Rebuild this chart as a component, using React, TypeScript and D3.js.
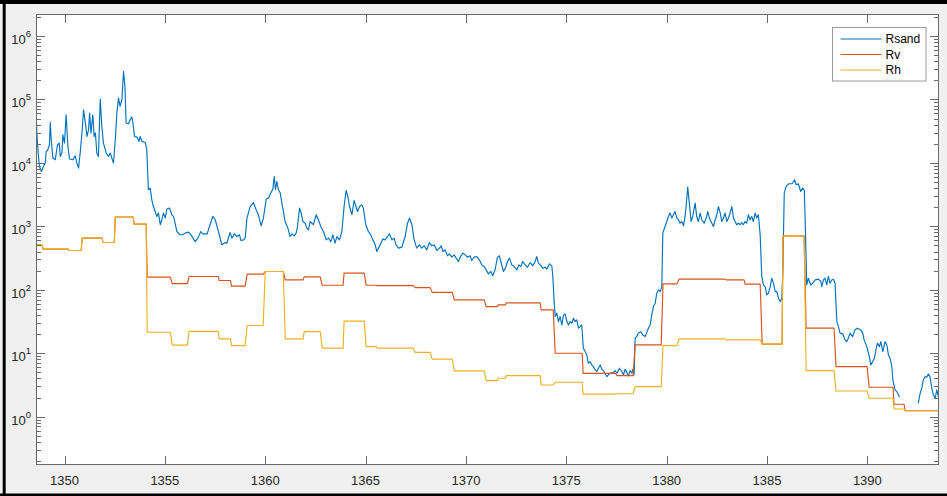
import React from "react";
import * as d3 from "d3";

// Axis ranges and ticks
const depthDomain: [number, number] = [1348.58, 1393.57];
const resDomain: [number, number] = [0.173, 2.22e6];
const depthTicks = [1350, 1355, 1360, 1365, 1370, 1375, 1380, 1385, 1390];
const decadeExponents = [0, 1, 2, 3, 4, 5, 6];

// Measured sand resistivity log (NaN gap marked with null)
const rsandDepth = [
  1348.58, 1348.62, 1348.69, 1348.75, 1348.85, 1348.95, 1349.04, 1349.09, 1349.17, 1349.25,
  1349.29, 1349.34, 1349.42, 1349.54, 1349.65, 1349.74, 1349.79, 1349.87, 1349.92, 1350.0,
  1350.08, 1350.17, 1350.25, 1350.42, 1350.53, 1350.62, 1350.7, 1350.78, 1350.87, 1350.95,
  1351.03, 1351.12, 1351.2, 1351.25, 1351.32, 1351.41, 1351.48, 1351.54, 1351.61, 1351.69,
  1351.78, 1351.86, 1351.94, 1352.08, 1352.19, 1352.28, 1352.36, 1352.44, 1352.53, 1352.61,
  1352.69, 1352.77, 1352.86, 1352.94, 1353.01, 1353.07, 1353.19, 1353.27, 1353.36, 1353.41,
  1353.49, 1353.61, 1353.71, 1353.77, 1353.86, 1354.02, 1354.1, 1354.18, 1354.27, 1354.35,
  1354.43, 1354.52, 1354.6, 1354.68, 1354.77, 1354.85, 1354.93, 1355.02, 1355.1, 1355.23,
  1355.35, 1355.43, 1355.51, 1355.6, 1355.76, 1355.9, 1356.01, 1356.18, 1356.3, 1356.4,
  1356.51, 1356.65, 1356.79, 1356.89, 1357.11, 1357.22, 1357.39, 1357.51, 1357.67, 1357.84,
  1358.01, 1358.09, 1358.25, 1358.34, 1358.47, 1358.59, 1358.72, 1358.79, 1358.92, 1359.0,
  1359.09, 1359.25, 1359.41, 1359.55, 1359.66, 1359.8, 1359.91, 1360.05, 1360.16, 1360.28,
  1360.38, 1360.45, 1360.51, 1360.58, 1360.66, 1360.75, 1360.83, 1360.91, 1360.99, 1361.13,
  1361.24, 1361.33, 1361.44, 1361.54, 1361.61, 1361.71, 1361.79, 1361.88, 1361.99, 1362.07,
  1362.15, 1362.24, 1362.4, 1362.54, 1362.65, 1362.77, 1362.9, 1363.04, 1363.15, 1363.27,
  1363.37, 1363.48, 1363.57, 1363.7, 1363.82, 1363.93, 1364.03, 1364.12, 1364.2, 1364.32,
  1364.43, 1364.52, 1364.6, 1364.7, 1364.81, 1364.89, 1365.01, 1365.14, 1365.26, 1365.36,
  1365.48, 1365.56, 1365.73, 1365.86, 1365.97, 1366.09, 1366.19, 1366.31, 1366.42, 1366.52,
  1366.64, 1366.81, 1366.97, 1367.09, 1367.19, 1367.31, 1367.42, 1367.55, 1367.68, 1367.8,
  1367.92, 1368.05, 1368.18, 1368.3, 1368.42, 1368.55, 1368.68, 1368.77, 1368.85, 1368.96,
  1369.08, 1369.18, 1369.3, 1369.41, 1369.51, 1369.63, 1369.75, 1369.85, 1369.96, 1370.07,
  1370.21, 1370.29, 1370.41, 1370.54, 1370.67, 1370.79, 1370.91, 1371.01, 1371.12, 1371.24,
  1371.34, 1371.46, 1371.57, 1371.67, 1371.74, 1371.87, 1371.97, 1372.07, 1372.17, 1372.29,
  1372.4, 1372.54, 1372.64, 1372.74, 1372.83, 1372.95, 1373.06, 1373.2, 1373.33, 1373.45,
  1373.53, 1373.61, 1373.7, 1373.83, 1373.95, 1374.03, 1374.16, 1374.28, 1374.33, 1374.4,
  1374.45, 1374.53, 1374.61, 1374.69, 1374.78, 1374.86, 1374.94, 1375.03, 1375.11, 1375.19,
  1375.28, 1375.36, 1375.44, 1375.52, 1375.61, 1375.69, 1375.77, 1375.85, 1375.94, 1376.02,
  1376.1, 1376.19, 1376.27, 1376.35, 1376.44, 1376.52, 1376.6, 1376.69, 1376.77, 1376.85,
  1376.93, 1377.02, 1377.1, 1377.18, 1377.35, 1377.43, 1377.52, 1377.65, 1377.77, 1377.85,
  1377.93, 1378.02, 1378.1, 1378.18, 1378.27, 1378.32, 1378.38, 1378.43, 1378.51, 1378.59,
  1378.71, 1378.81, 1378.93, 1379.01, 1379.09, 1379.18, 1379.26, 1379.34, 1379.43, 1379.51,
  1379.59, 1379.68, 1379.76, 1379.81, 1379.92, 1380.01, 1380.09, 1380.17, 1380.26, 1380.34,
  1380.42, 1380.51, 1380.59, 1380.67, 1380.76, 1380.84, 1380.92, 1381.0, 1381.05, 1381.13,
  1381.22, 1381.3, 1381.42, 1381.5, 1381.58, 1381.67, 1381.75, 1381.87, 1381.97, 1382.05,
  1382.13, 1382.21, 1382.33, 1382.42, 1382.5, 1382.58, 1382.67, 1382.75, 1382.83, 1382.91,
  1383.0, 1383.08, 1383.16, 1383.25, 1383.33, 1383.41, 1383.49, 1383.58, 1383.66, 1383.74,
  1383.82, 1383.91, 1383.99, 1384.07, 1384.16, 1384.24, 1384.32, 1384.41, 1384.49, 1384.57,
  1384.66, 1384.74, 1384.82, 1384.91, 1384.99, 1385.07, 1385.16, 1385.24, 1385.32, 1385.41,
  1385.49, 1385.57, 1385.66, 1385.74, 1385.79, 1385.86, 1385.95, 1386.08, 1386.25, 1386.38,
  1386.45, 1386.56, 1386.68, 1386.78, 1386.86, 1386.91, 1386.98, 1387.06, 1387.18, 1387.28,
  1387.4, 1387.56, 1387.68, 1387.73, 1387.81, 1387.89, 1387.98, 1388.06, 1388.14, 1388.23,
  1388.31, 1388.39, 1388.48, 1388.56, 1388.64, 1388.77, 1388.89, 1388.97, 1389.05, 1389.14,
  1389.27, 1389.38, 1389.5, 1389.67, 1389.77, 1389.84, 1389.97, 1390.1, 1390.17, 1390.27,
  1390.35, 1390.43, 1390.5, 1390.6, 1390.67, 1390.77, 1390.88, 1390.97, 1391.05, 1391.13,
  1391.22, 1391.27, 1391.38, 1391.47, 1391.6, 1392.0,
  1392.54, 1392.63, 1392.71, 1392.79, 1392.88, 1392.96, 1393.04, 1393.12, 1393.21, 1393.29,
  1393.38, 1393.46, 1393.54,
];

const rsandValue: (number | null)[] = [
  78000, 30000, 14400, 8770, 7310, 8770, 10000, 15100, 16100, 19300,
  43400, 23100, 11900, 11200, 19300, 20500, 12600, 14300, 27700, 20500,
  57400, 18100, 11500, 11200, 12900, 9930, 8280, 14300, 29500, 68800,
  45000, 26100, 33300, 61000, 29500, 57400, 26100, 29500, 14300, 12600,
  101000, 37500, 20500, 14300, 12600, 14300, 11900, 9930, 23100, 61000,
  105000, 77600, 98900, 276000, 160000, 42400, 41400, 47800, 52800, 42400,
  26100, 25500, 21800, 26100, 21800, 21000, 16100, 3770, 4010, 2620,
  2050, 1710, 1430, 1620, 1060, 1270, 1620, 1350, 1870, 1940,
  1520, 1430, 1120, 828, 735, 735, 781, 810, 735, 651,
  575, 651, 828, 762, 762, 993, 1430, 1270, 828, 511,
  555, 543, 798, 651, 762, 690, 735, 597, 612, 651,
  1350, 2050, 2370, 1820, 1520, 1020, 1350, 2690, 2790, 3340,
  3860, 6100, 3770, 5090, 3770, 3340, 2320, 1710, 1190, 937,
  690, 762, 708, 781, 993, 1940, 1620, 1190, 1120, 937,
  881, 1190, 1060, 1520, 1270, 993, 828, 612, 651, 575,
  735, 543, 690, 612, 828, 2050, 3670, 2950, 2050, 1520,
  2550, 2050, 1710, 2050, 2180, 1940, 1060, 828, 735, 612,
  511, 401, 511, 629, 612, 690, 762, 612, 651, 511,
  453, 470, 690, 1120, 1350, 1060, 612, 453, 511, 453,
  493, 426, 555, 493, 511, 415, 453, 493, 401, 426,
  343, 368, 327, 355, 315, 279, 343, 378, 355, 327,
  343, 289, 327, 334, 296, 247, 232, 206, 178, 194,
  166, 211, 327, 343, 279, 194, 219, 279, 315, 247,
  232, 206, 247, 232, 279, 247, 227, 269, 238, 279,
  334, 263, 247, 219, 227, 211, 256, 238, 162, 61.5,
  37.8, 42.7, 31.5, 37.8, 27.9, 40.2, 41.7, 31.5, 27.9, 31.5,
  29.7, 35.6, 31.5, 33.5, 24.8, 26.3, 27.9, 12.0, 10.6, 9.4,
  6.95, 7.37, 6.54, 6.15, 5.45, 5.13, 5.8, 6.54, 5.59, 5.32,
  4.84, 4.28, 4.55, 4.84, 4.94, 5.32, 4.84, 5.8, 5.13, 4.55,
  5.59, 4.94, 4.38, 5.32, 4.84, 5.59, 4.55, 17.2, 18.3, 20.7,
  21.9, 19.4, 18.3, 21.1, 24.8, 27.9, 40.2, 54.3, 61.5, 88.3,
  99.6, 93.7, 112, 781, 993, 1190, 1430, 1620, 1350, 1520,
  1710, 1350, 1270, 1120, 1190, 1020, 1430, 2620, 4150, 2320,
  1190, 1430, 2320, 1430, 1190, 1620, 1270, 1120, 1350, 1710,
  1350, 1190, 993, 1270, 1520, 2050, 1620, 1190, 1350, 1620,
  1190, 1350, 1620, 2050, 1350, 1190, 1060, 1120, 1060, 1150,
  1060, 1190, 1120, 1520, 1270, 1430, 1190, 1620, 1350, 1520,
  735, 162, 119, 112, 83.1, 88.3, 112, 152, 127, 93.7,
  93.7, 73.7, 65.2, 73.7, 206, 3340, 4250, 4680, 4680, 5410,
  4520, 4680, 3540, 4010, 3670, 993, 119, 152, 119, 127,
  143, 147, 135, 112, 143, 152, 119, 162, 127, 143,
  147, 127, 31.5, 26.3, 20.7, 20.2, 16.2, 15.2, 17.2, 20.7,
  18.3, 23.3, 24.8, 23.3, 20.7, 16.2, 12.7, 8.84, 6.54, 7.37,
  8.34, 11.3, 14.4, 12.7, 15.2, 10.6, 15.2, 13.5, 9.4, 8.34,
  6.15, 3.79, 2.64, 2.48, 2.02, null,
  1.63, 2.34, 2.81, 3.79, 4.28, 4.18, 4.71, 4.28, 2.81, 2.2,
  1.95, 2.64, 2.07,
];

// Layered model: top/base depth of each layer with vertical and horizontal resistivity
const layerTop = [
  1348.58, 1348.93, 1350.23, 1350.88, 1351.91, 1352.53, 1353.47, 1354.12, 1355.37, 1356.21,
  1357.71, 1358.32, 1359.1, 1360.0, 1361.0, 1361.94, 1362.84, 1363.93, 1365.03, 1365.58,
  1367.47, 1368.32, 1369.42, 1371.01, 1371.61, 1372.01, 1373.75, 1374.45, 1375.84, 1377.54,
  1378.43, 1379.82, 1380.62, 1382.96, 1383.91, 1384.76, 1385.8, 1386.95, 1388.44, 1390.09,
  1391.33, 1391.88,
];
const layerBase = [
  1348.88, 1350.18, 1350.83, 1351.88, 1352.48, 1353.42, 1354.07, 1355.27, 1356.12, 1357.66,
  1358.27, 1359.0, 1359.9, 1360.9, 1361.89, 1362.74, 1363.88, 1364.93, 1365.53, 1367.37,
  1368.22, 1369.32, 1370.91, 1371.56, 1371.96, 1373.7, 1374.35, 1375.79, 1377.44, 1378.33,
  1379.73, 1380.52, 1382.91, 1383.86, 1384.66, 1385.75, 1386.85, 1388.34, 1389.99, 1391.28,
  1391.83, 1393.57,
];
const rvLayer = [
  510, 437, 415, 651, 555, 1400, 1080, 158, 125, 162,
  140, 114, 176, 194, 143, 160, 118, 183, 118, 116,
  108, 91, 69.3, 54.3, 57.8, 62.1, 48.2, 10.0, 4.8, 4.43,
  13.5, 124, 147, 143, 123, 13.9, 708, 24.8, 6.15, 2.91,
  1.57, 1.24,
];
const rhLayer = [
  510, 437, 415, 651, 555, 1400, 1080, 21.4, 13.4, 22.1,
  16.8, 13.2, 27.3, 194, 16.8, 21.9, 12.0, 32.0, 12.7, 12.0,
  10.3, 8.07, 5.26, 3.7, 4.03, 4.43, 3.16, 3.49, 2.26, 2.3,
  2.97, 13.2, 16.8, 16.2, 16.2, 13.9, 708, 5.32, 2.54, 1.95,
  1.32, 1.24,
];

const seriesNames = ["Rsand", "Rv", "Rh"];
const seriesColors = ["#0072BD", "#D95319", "#EDB120"];

const W = 947;
const H = 496;
const plot = { left: 36, right: 939, top: 14, bottom: 465 };
const FONT = "'Liberation Sans', Arial, Helvetica, sans-serif";
const TEXT = "#262626";
const AXIS = "#6a6a6a";

type Pt = [number, number | null];

function layerPoints(values: number[]): Pt[] {
  const pts: Pt[] = [];
  values.forEach((v, i) => {
    pts.push([layerTop[i], v]);
    pts.push([layerBase[i], v]);
  });
  return pts;
}

export default function App() {
  const x = d3.scaleLinear().domain(depthDomain).range([plot.left, plot.right]);
  const y = d3.scaleLog().domain(resDomain).range([plot.bottom, plot.top]);

  const line = d3
    .line<Pt>()
    .defined((d) => d[1] !== null && !isNaN(d[1] as number))
    .x((d) => x(d[0]))
    .y((d) => y(d[1] as number));

  const n = Math.min(rsandDepth.length, rsandValue.length);
  const rsandPts: Pt[] = d3.range(n).map((i) => [rsandDepth[i], rsandValue[i]]);
  const series: Pt[][] = [rsandPts, layerPoints(rvLayer), layerPoints(rhLayer)];

  // minor ticks on the log axis
  const minor: number[] = [];
  for (let e = -1; e <= 6; e++) {
    for (let m = 2; m <= 9; m++) {
      const v = m * Math.pow(10, e);
      if (v >= resDomain[0] && v <= resDomain[1]) minor.push(v);
    }
  }

  const legend = { x: 832.5, y: 27.5, w: 93.5, h: 53.5 };
  const rowY = [39, 54.5, 70];

  return (
    <svg
      width={W}
      height={H}
      style={{ position: "absolute", left: 0, top: 0, display: "block" }}
      fontFamily={FONT}
    >
      <rect x={0} y={0} width={W} height={H} fill="#f0f0f0" />
      <rect x={plot.left} y={plot.top} width={plot.right - plot.left} height={plot.bottom - plot.top} fill="#ffffff" />

      <defs>
        <clipPath id="plot-clip">
          <rect x={plot.left} y={plot.top} width={plot.right - plot.left} height={plot.bottom - plot.top} />
        </clipPath>
      </defs>

      <g clipPath="url(#plot-clip)" fill="none" strokeWidth={1.15} strokeLinejoin="round">
        {series.map((pts, i) => (
          <path key={seriesNames[i]} d={line(pts) || ""} stroke={seriesColors[i]} />
        ))}
      </g>

      {/* axes box */}
      <rect
        x={plot.left + 0.5}
        y={plot.top + 0.5}
        width={plot.right - plot.left - 1}
        height={plot.bottom - plot.top - 1}
        fill="none"
        stroke={AXIS}
        strokeWidth={1}
      />

      {/* x ticks, top and bottom */}
      {depthTicks.map((t) => {
        const px = Math.round(x(t)) + 0.5;
        return (
          <g key={`xt${t}`}>
            <line x1={px} x2={px} y1={plot.bottom} y2={plot.bottom - 9} stroke={AXIS} />
            <line x1={px} x2={px} y1={plot.top} y2={plot.top + 9} stroke={AXIS} />
            <text x={x(t)} y={485} textAnchor="middle" fontSize={13} fill={TEXT}>
              {t}
            </text>
          </g>
        );
      })}

      {/* y major ticks, both sides */}
      {decadeExponents.map((e) => {
        const py = Math.round(y(Math.pow(10, e))) + 0.5;
        return (
          <g key={`yt${e}`}>
            <line x1={plot.left} x2={plot.left + 9} y1={py} y2={py} stroke={AXIS} />
            <line x1={plot.right} x2={plot.right - 9} y1={py} y2={py} stroke={AXIS} />
            <text x={31} y={py + 7} textAnchor="end" fontSize={13} fill={TEXT}>
              <tspan>10</tspan>
              <tspan dy={-6.5} fontSize={9.5}>
                {e}
              </tspan>
            </text>
          </g>
        );
      })}

      {/* y minor ticks */}
      {minor.map((v, i) => {
        const py = Math.round(y(v)) + 0.5;
        return (
          <g key={`ym${i}`}>
            <line x1={plot.left} x2={plot.left + 5} y1={py} y2={py} stroke={AXIS} />
            <line x1={plot.right} x2={plot.right - 5} y1={py} y2={py} stroke={AXIS} />
          </g>
        );
      })}

      {/* legend */}
      <rect x={legend.x} y={legend.y} width={legend.w} height={legend.h} fill="#ffffff" stroke="#9a9a9a" />
      {seriesNames.map((name, i) => (
        <g key={`lg${name}`}>
          <line x1={840.5} x2={881.5} y1={rowY[i]} y2={rowY[i]} stroke={seriesColors[i]} strokeWidth={1} />
          <text x={885.5} y={rowY[i] + 4.3} fontSize={12} fill="#000">
            {name}
          </text>
        </g>
      ))}

      {/* window frame */}
      <rect x={0} y={0} width={W} height={4} fill="#000" />
      <rect x={2.7} y={0} width={3} height={H} fill="#000" />
      <rect x={0} y={493.5} width={W} height={2.5} fill="#000" />
    </svg>
  );
}
